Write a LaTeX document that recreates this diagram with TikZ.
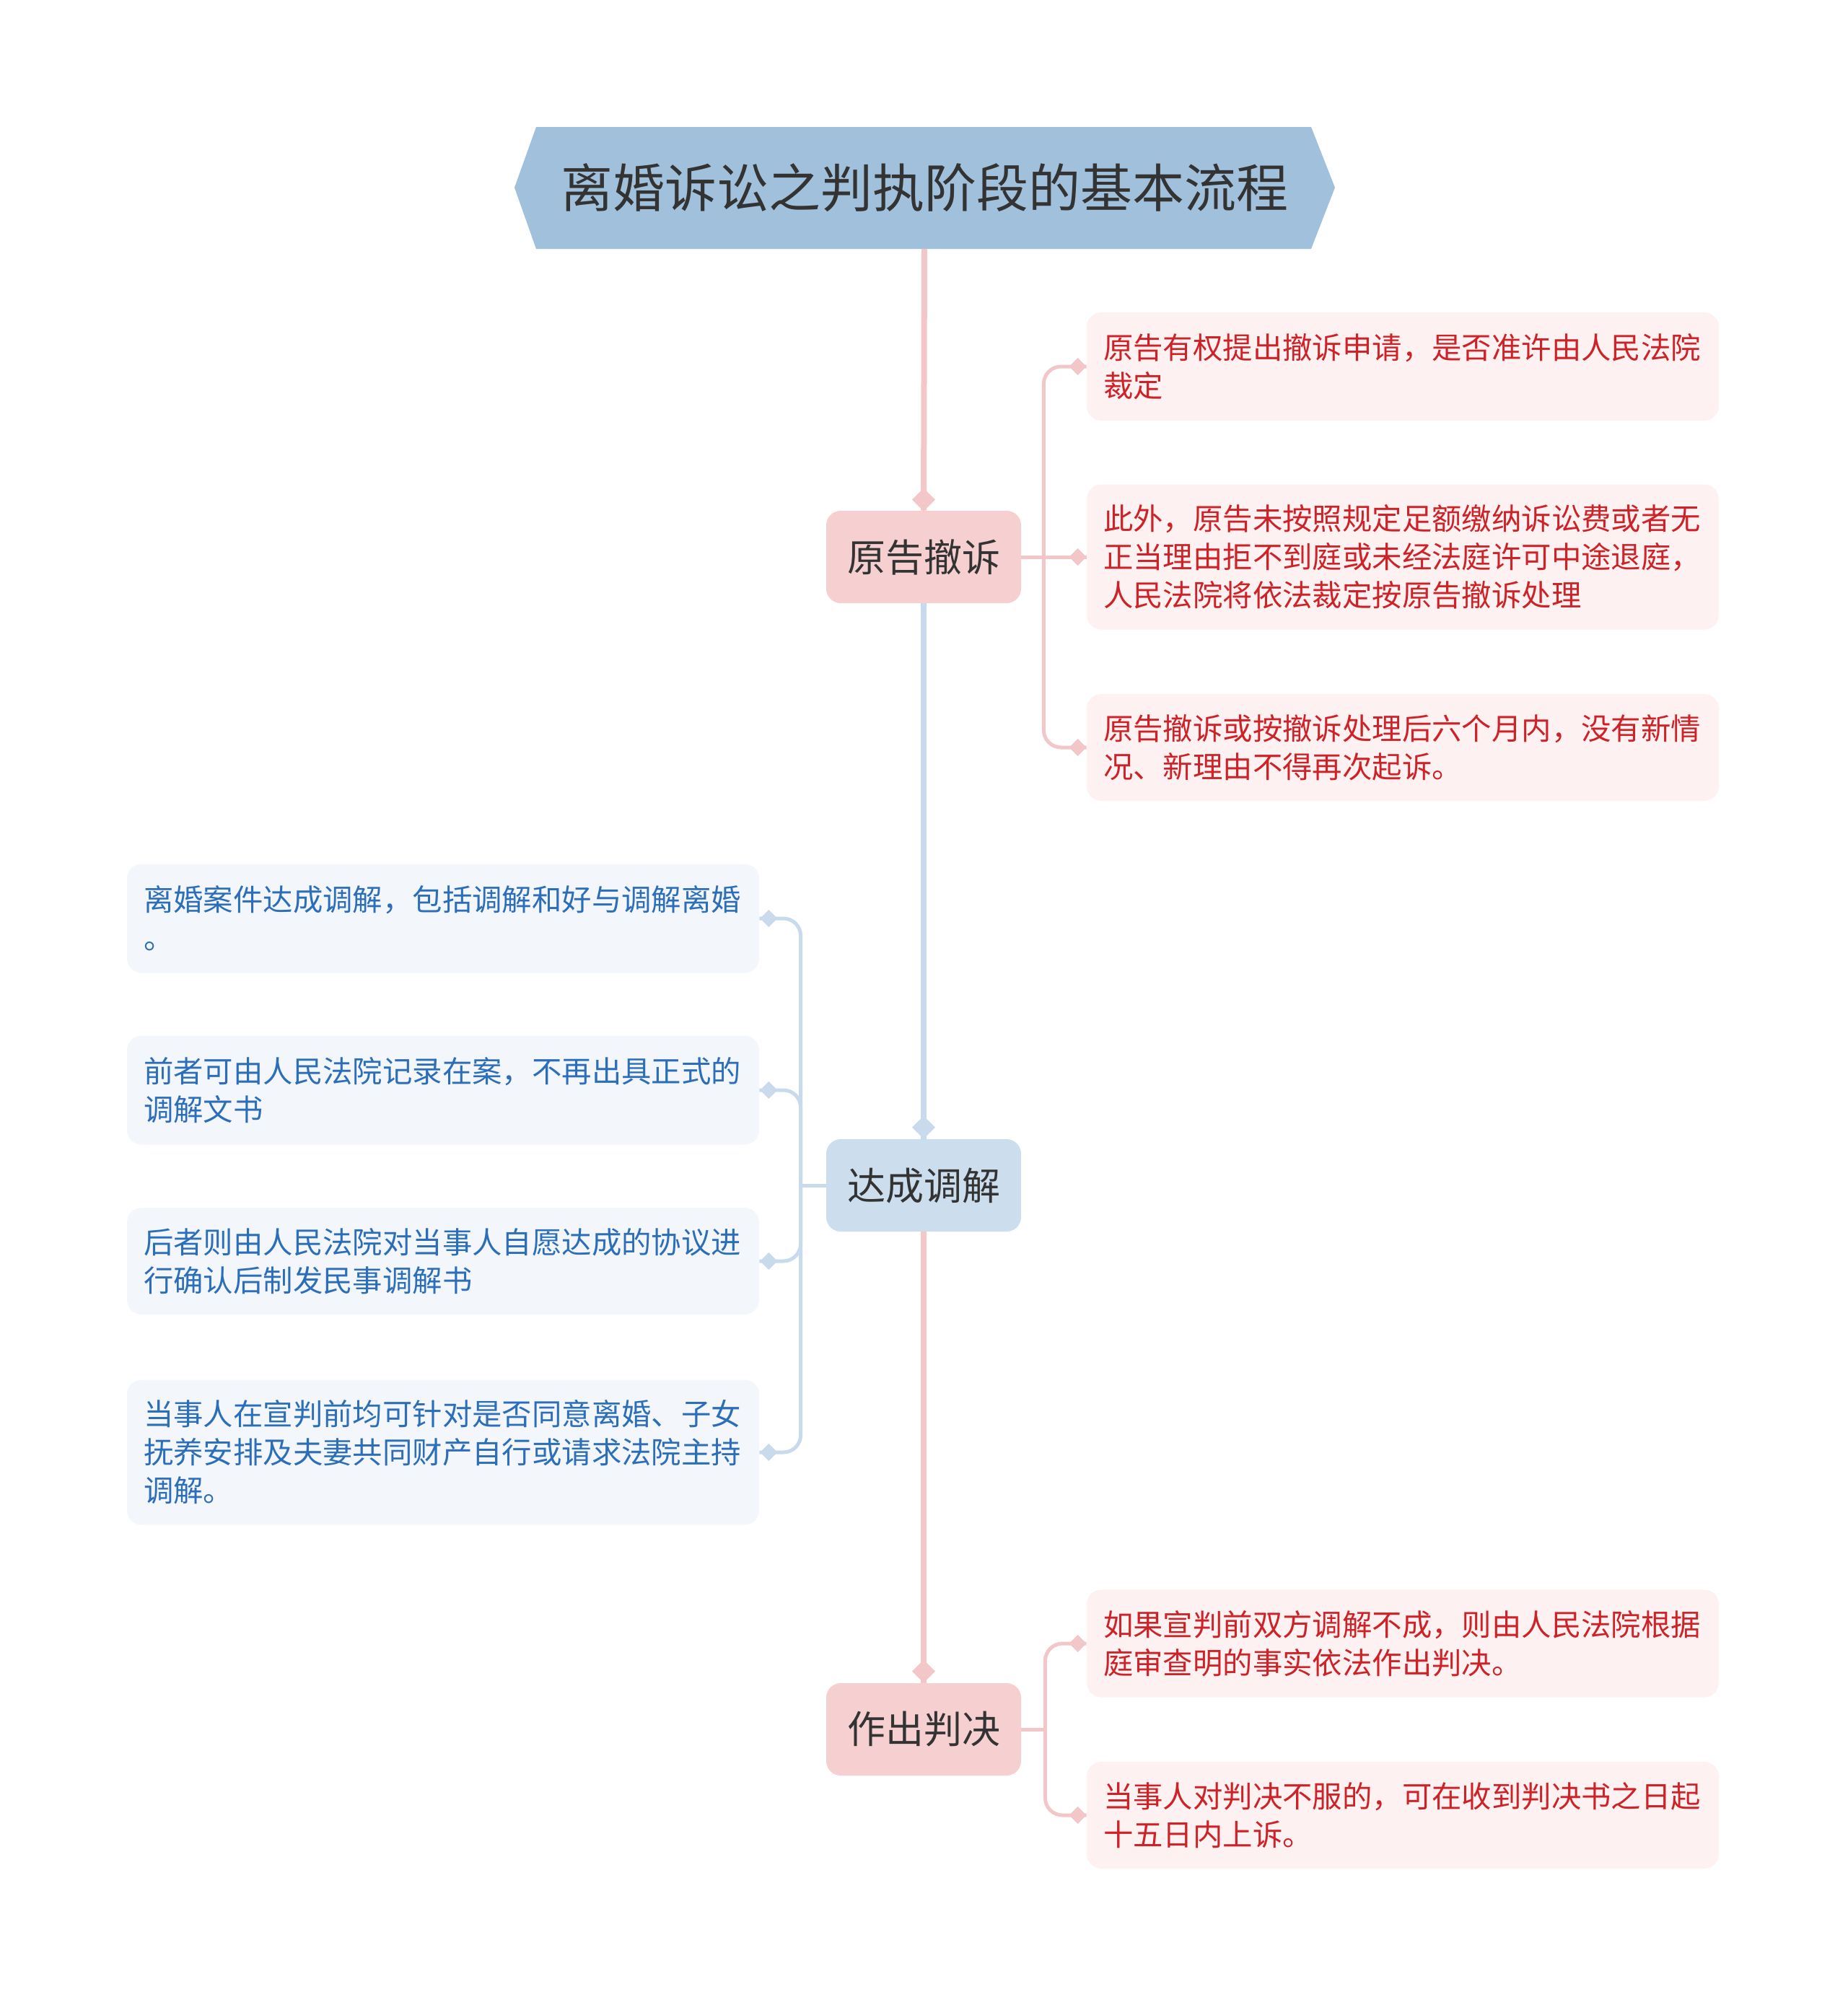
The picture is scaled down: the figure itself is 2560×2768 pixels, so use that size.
\documentclass[tikz,border=0pt]{standalone}
\usepackage{fontspec}
\setmainfont{Noto Sans CJK SC}
\usetikzlibrary{calc}
\definecolor{titlefill}{RGB}{161,192,220}
\definecolor{pinkfill}{RGB}{246,207,208}
\definecolor{bluefill}{RGB}{204,221,237}
\definecolor{pinkline}{RGB}{243,199,201}
\definecolor{blueline}{RGB}{200,218,236}
\definecolor{rfill}{RGB}{253,241,241}
\definecolor{bfill}{RGB}{243,247,252}
\definecolor{rtext}{RGB}{205,35,40}
\definecolor{btext}{RGB}{45,110,185}
\definecolor{txtdark}{RGB}{51,51,51}
\newcommand\mydmd[3]{\fill[#1] ($(#2)+(-#3,0)$) -- ($(#2)+(0,-#3)$) -- ($(#2)+(#3,0)$) -- ($(#2)+(0,#3)$) -- cycle;}
\begin{document}
\begin{tikzpicture}[x=0.5pt,y=-0.5pt,
  lone/.style={rounded corners=10pt, minimum width=135pt, minimum height=64pt, inner sep=0pt, text=txtdark, font=\fontsize{26.5}{30}\selectfont},
  leaf/.style={rounded corners=10pt, minimum width=438pt, inner sep=0pt, text width=415pt, align=left, font=\fontsize{20.7}{26.5}\selectfont},
  rleaf/.style={leaf, fill=rfill, text=rtext},
  bleaf/.style={leaf, fill=bfill, text=btext},
  trunk/.style={line width=4pt},
  branch/.style={line width=2.5pt, rounded corners=12pt},
]
\useasboundingbox (0,0) rectangle (2560,2768);
% title
\fill[titlefill] (713,260) -- (743,176) -- (1817,176) -- (1850,260) -- (1817,345) -- (743,345) -- cycle;
\node[font=\fontsize{36}{42}\selectfont, text=txtdark, minimum width=568pt, minimum height=84.5pt, inner sep=0pt] (t) at (1281,260) {离婚诉讼之判执阶段的基本流程};
% main nodes
\node[lone, fill=pinkfill] (a) at (1280,772) {原告撤诉};
\node[lone, fill=bluefill] (b) at (1280,1643) {达成调解};
\node[lone, fill=pinkfill] (c) at (1280,2397) {作出判决};
% right leaves of a
\node[rleaf, minimum height=75pt] (a1) at (1944,508) {原告有权提出撤诉申请，是否准许由人民法院\\裁定};
\node[rleaf, minimum height=100.5pt] (a2) at (1944,772) {此外，原告未按照规定足额缴纳诉讼费或者无\\正当理由拒不到庭或未经法庭许可中途退庭，\\人民法院将依法裁定按原告撤诉处理};
\node[rleaf, minimum height=74pt] (a3) at (1944,1036) {原告撤诉或按撤诉处理后六个月内，没有新情\\况、新理由不得再次起诉。};
% left leaves of b
\node[bleaf, minimum height=75.5pt] (b1) at (614,1273) {离婚案件达成调解，包括调解和好与调解离婚\\。};
\node[bleaf, minimum height=75.5pt] (b2) at (614,1511) {前者可由人民法院记录在案，不再出具正式的\\调解文书};
\node[bleaf, minimum height=74pt] (b3) at (614,1748) {后者则由人民法院对当事人自愿达成的协议进\\行确认后制发民事调解书};
\node[bleaf, minimum height=100.5pt] (b4) at (614,2013) {当事人在宣判前均可针对是否同意离婚、子女\\抚养安排及夫妻共同财产自行或请求法院主持\\调解。};
% right leaves of c
\node[rleaf, minimum height=74.5pt] (c1) at (1944,2278) {如果宣判前双方调解不成，则由人民法院根据\\庭审查明的事实依法作出判决。};
\node[rleaf, minimum height=74pt] (c2) at (1944,2516) {当事人对判决不服的，可在收到判决书之日起\\十五日内上诉。};
% trunk
\draw[trunk, pinkline] (t.south) -- (a.north);
\draw[trunk, blueline] (a.south) -- (b.north);
\draw[trunk, pinkline] (b.south) -- (c.north);
\coordinate (da) at ($(a.north)+(0,-15)$);
\coordinate (db) at ($(b.north)+(0,-16)$);
\coordinate (dc) at ($(c.north)+(0,-16)$);
\mydmd{pinkline}{da}{16}
\mydmd{blueline}{db}{16}
\mydmd{pinkline}{dc}{16}
% branches of a
\coordinate (ja) at ($(a.east)+(31,0)$);
\draw[branch, pinkline] (a.east) -- (a2.west);
\draw[branch, pinkline] (a1.west) -| (ja);
\draw[branch, pinkline] (a3.west) -| (ja);
% branches of b
\coordinate (jb) at ($(b.west)+(-35,0)$);
\draw[branch, blueline] (b.west) -- (jb);
\draw[branch, blueline] (b1.east) -| (jb);
\draw[branch, blueline] (b2.east) -| (jb);
\draw[branch, blueline] (b3.east) -| (jb);
\draw[branch, blueline] (b4.east) -| (jb);
% branches of c
\coordinate (jc) at ($(c.east)+(33,0)$);
\draw[branch, pinkline] (c.east) -- (jc);
\draw[branch, pinkline] (c1.west) -| (jc);
\draw[branch, pinkline] (c2.west) -| (jc);
% leaf diamonds
\foreach \n in {a1,a2,a3,c1,c2}{
  \coordinate (d\n) at ($(\n.west)+(-12,0)$);
  \mydmd{pinkline}{d\n}{12}
}
\foreach \n in {b1,b2,b3,b4}{
  \coordinate (d\n) at ($(\n.east)+(13,0)$);
  \mydmd{blueline}{d\n}{12}
}
\end{tikzpicture}
\end{document}
